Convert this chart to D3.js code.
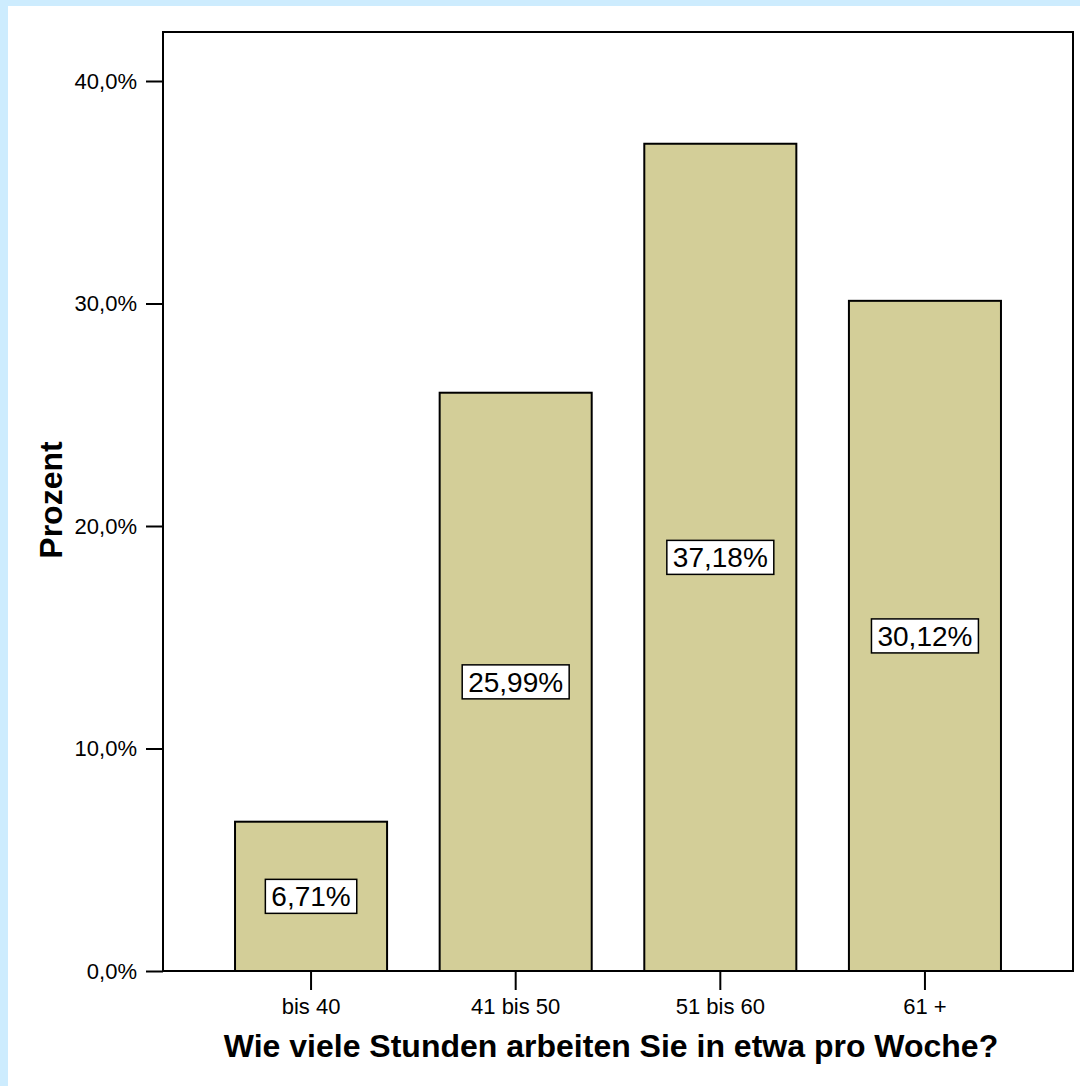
<!DOCTYPE html>
<html><head><meta charset="utf-8">
<script src="https://cdn.jsdelivr.net/npm/d3@7"></script>
<style>
html,body{margin:0;padding:0;background:#cdecfe;}
svg{display:block;}
</style></head>
<body>
<script>
const categories = ["bis 40", "41 bis 50", "51 bis 60", "61 +"];
const values = [6.71, 25.99, 37.18, 30.12];
const valueLabels = ["6,71%", "25,99%", "37,18%", "30,12%"];
const yTicks = [0, 10, 20, 30, 40];
const yTickLabels = ["0,0%", "10,0%", "20,0%", "30,0%", "40,0%"];
const xTitle = "Wie viele Stunden arbeiten Sie in etwa pro Woche?";
const yTitle = "Prozent";

const W = 1080, H = 1086;
const svg = d3.select("body").append("svg").attr("width", W).attr("height", H);
svg.append("rect").attr("x", 0).attr("y", 0).attr("width", W).attr("height", H).attr("fill", "#cdecfe");
svg.append("rect").attr("x", 8).attr("y", 6).attr("width", W - 8).attr("height", H - 6).attr("fill", "#ffffff");

const L = 163, T = 32, R = 1073, B = 971;
const y = d3.scaleLinear().domain([0, 40]).range([B, 81]);
const x = d3.scaleBand().domain(categories).range([L, R]).paddingInner(0.257).paddingOuter(0.352);

const font = "'Liberation Sans', Arial, sans-serif";

// bars
svg.selectAll("rect.bar").data(values).enter().append("rect")
  .attr("class", "bar")
  .attr("x", (d, i) => x(categories[i]))
  .attr("y", d => y(d))
  .attr("width", x.bandwidth())
  .attr("height", d => B - y(d))
  .attr("fill", "#d3ce98")
  .attr("stroke", "#000").attr("stroke-width", 2);

// frame
svg.append("rect").attr("x", L).attr("y", T).attr("width", R - L).attr("height", B - T)
  .attr("fill", "none").attr("stroke", "#000").attr("stroke-width", 2);

// y axis
const yAxis = d3.axisLeft(y).tickValues(yTicks).tickSize(17).tickPadding(9)
  .tickFormat((d, i) => yTickLabels[i]);
const gy = svg.append("g").attr("transform", `translate(${L},0)`).call(yAxis);
gy.select(".domain").remove();
gy.selectAll(".tick line").attr("stroke", "#000").attr("stroke-width", 2);
gy.selectAll(".tick text").attr("font-family", font).attr("font-size", 22).attr("fill", "#000");

// x axis
const xAxis = d3.axisBottom(x).tickSize(19).tickPadding(8);
const gx = svg.append("g").attr("transform", `translate(0,${B})`).call(xAxis);
gx.select(".domain").remove();
gx.selectAll(".tick line").attr("stroke", "#000").attr("stroke-width", 2);
gx.selectAll(".tick text").attr("font-family", font).attr("font-size", 22).attr("fill", "#000");

// value labels
const lg = svg.selectAll("g.vl").data(values).enter().append("g").attr("class", "vl")
  .attr("transform", (d, i) => `translate(${x(categories[i]) + x.bandwidth() / 2},${(y(d) + B) / 2})`);
lg.append("text")
  .attr("text-anchor", "middle").attr("dy", "0.36em")
  .attr("font-family", font).attr("font-size", 28)
  .text((d, i) => valueLabels[i]);
lg.each(function () {
  const g = d3.select(this);
  const bb = g.select("text").node().getBBox();
  g.insert("rect", "text")
    .attr("x", bb.x - 6).attr("y", -17).attr("width", bb.width + 12).attr("height", 34)
    .attr("fill", "#fff").attr("stroke", "#000").attr("stroke-width", 1.5);
});

// titles
svg.append("text").attr("x", 611).attr("y", 1057).attr("text-anchor", "middle")
  .attr("font-family", font).attr("font-weight", "bold").attr("font-size", 32)
  .text(xTitle);
svg.append("text").attr("transform", "translate(62,500) rotate(-90)").attr("text-anchor", "middle")
  .attr("font-family", font).attr("font-weight", "bold").attr("font-size", 32)
  .text(yTitle);
</script>
</body></html>
